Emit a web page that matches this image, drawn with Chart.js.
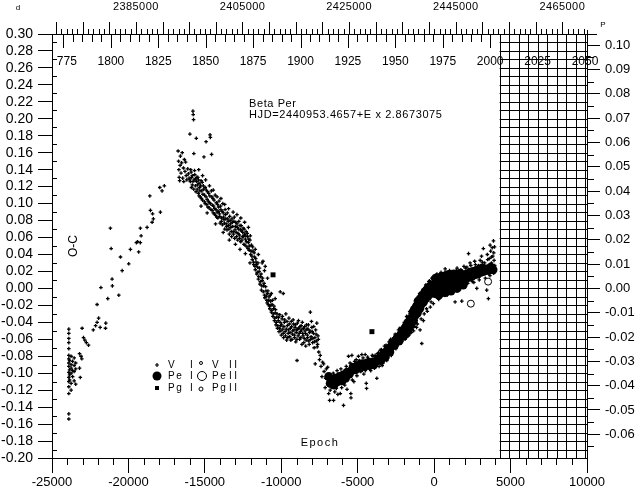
<!DOCTYPE html>
<html>
<head>
<meta charset="utf-8">
<script src="https://cdn.jsdelivr.net/npm/chart.js@4.4.1/dist/chart.umd.min.js"></script>
<style>
  body { margin: 0; background: #fff; }
  canvas { display: block; }
</style>
</head>
<body>
<canvas id="ocChart" width="640" height="494"></canvas>
<script>
// Beta Per ephemeris
const PERIOD = 2.8673075;
const HJD0 = 2440953.4657;

// axis ticks
const epochTicks = [-25000, -20000, -15000, -10000, -5000, 0, 5000, 10000];
const ocTicks = [-0.20, -0.18, -0.16, -0.14, -0.12, -0.10, -0.08, -0.06, -0.04, -0.02, 0.00,
  0.02, 0.04, 0.06, 0.08, 0.10, 0.12, 0.14, 0.16, 0.18, 0.20, 0.22, 0.24, 0.26, 0.28, 0.30];
const phaseTicks = [-0.06, -0.05, -0.04, -0.03, -0.02, -0.01, 0.00, 0.01, 0.02, 0.03, 0.04,
  0.05, 0.06, 0.07, 0.08, 0.09, 0.10];
const hjdLabels = [2385000, 2405000, 2425000, 2445000, 2465000];
const yearLabels = [1775, 1800, 1825, 1850, 1875, 1900, 1925, 1950, 1975, 2000, 2025, 2050];
// year scale as printed on top: [year, epoch] at both ends
const yearScale = [[1775, -24250], [2050, 9870]];

// [epoch, O-C in days]
const visualI = [
  [-23900,-0.048],[-23900,-0.053],[-23900,-0.059],[-23900,-0.064],[-23900,-0.071],[-23900,-0.079],
  [-23900,-0.083],[-23900,-0.088],[-23900,-0.092],[-23900,-0.099],[-23900,-0.105],[-23900,-0.110],
  [-23900,-0.116],[-23900,-0.124],[-23900,-0.148],[-23900,-0.154],
  [-23850,-0.085],[-23850,-0.096],[-23850,-0.102],[-23850,-0.108],
  [-23750,-0.080],[-23750,-0.090],[-23750,-0.094],[-23750,-0.100],[-23750,-0.112],[-23750,-0.120],
  [-23650,-0.086],[-23650,-0.097],[-23650,-0.104],[-23550,-0.082],[-23550,-0.091],[-23550,-0.098],
  [-23550,-0.109],[-23450,-0.088],[-23450,-0.095],[-23450,-0.113],
  [-23200,-0.094],[-23150,-0.105],[-23200,-0.077],[-23100,-0.080],[-23050,-0.083],
  [-23030,-0.047],[-22940,-0.058],[-22850,-0.061],[-22750,-0.064],[-22610,-0.067],
  [-22300,-0.049],[-22150,-0.044],[-22050,-0.040],[-21950,-0.035],[-21850,-0.046],[-22050,-0.019],
  [-21800,0.001],[-21500,-0.047],[-21480,-0.041],[-21350,-0.012],[-21070,0.011],[-21050,0.003],
  [-21130,0.047],[-21180,0.071],[-20630,-0.008],[-20520,0.037],[-20410,0.021],[-19980,0.029],
  [-19870,0.046],[-19480,0.054],[-19400,0.055],[-19330,0.043],[-19220,0.054],[-19170,0.062],
  [-19220,0.071],[-18780,0.072],[-18600,0.109],[-18560,0.092],[-18450,0.078],[-18370,0.082],
  [-18420,0.088],[-17910,0.090],[-17950,0.119],[-17800,0.115],[-17650,0.121],
  [-16750,0.162],[-16720,0.150],[-16700,0.140],[-16680,0.131],[-16650,0.127],[-16620,0.145],
  [-16600,0.156],[-16560,0.136],[-16520,0.148],[-16480,0.160],[-16450,0.130],[-16400,0.142],
  [-16380,0.126],[-16340,0.152],[-16300,0.138],[-16260,0.149],[-16220,0.133],[-16180,0.128],
  [-16120,0.141],[-16080,0.135],[-16030,0.130],[-15980,0.182],[-15950,0.126],[-15900,0.137],
  [-15860,0.131],[-15820,0.122],[-15780,0.209],[-15760,0.205],[-15740,0.199],[-15720,0.159],
  [-15700,0.128],[-15660,0.134],[-15620,0.121],[-15560,0.177],[-15540,0.126],[-15500,0.117],
  [-15460,0.131],[-15420,0.112],[-15380,0.124],[-15340,0.119],[-15300,0.108],[-15250,0.127],
  [-15200,0.115],[-15150,0.104],[-15100,0.121],[-15060,0.155],[-15020,0.110],[-14980,0.100],
  [-14920,0.173],[-14900,0.116],[-14850,0.105],[-14800,0.096],[-14750,0.112],[-14700,0.101],
  [-14660,0.181],[-14640,0.178],[-14600,0.093],[-14560,0.158],[-14540,0.108],[-14500,0.098],
  [-14450,0.089],[-14400,0.104],[-14350,0.094],[-14300,0.086],[-14250,0.101],[-14200,0.090],
  [-14150,0.083],[-14100,0.096],[-14050,0.088],[-14000,0.077],[-13950,0.093],[-13900,0.083],
  [-13850,0.075],[-13800,0.089],[-13750,0.081],[-13700,0.070],[-13650,0.087],[-13600,0.076],
  [-13550,0.069],[-13500,0.082],[-13450,0.074],[-13400,0.064],[-13350,0.080],[-13300,0.072],
  [-13250,0.061],[-13200,0.078],[-13150,0.067],[-13100,0.079],[-13050,0.059],[-13000,0.073],
  [-12950,0.066],[-12900,0.076],[-12850,0.057],[-12800,0.070],[-12750,0.063],[-12700,0.074],
  [-12650,0.055],[-12600,0.068],[-12550,0.061],[-12500,0.071],[-12450,0.052],[-12400,0.064],
  [-12350,0.058],[-12300,0.067],[-12250,0.049],[-12200,0.061],[-12150,0.054],[-12100,0.045],
  [-12050,0.057],[-12000,0.040],[-11950,0.051],[-11900,0.034],[-11850,0.044],[-11800,0.028],
  [-11750,0.037],[-11700,0.022],[-11650,0.031],[-11600,0.017],[-11550,0.025],[-11500,0.011],
  [-11450,0.020],[-11400,0.005],[-11350,0.014],[-11300,-0.002],[-11250,0.009],[-11200,0.032],
  [-11150,0.003],[-11100,-0.008],[-11050,0.026],[-11000,-0.003],[-10950,-0.014],[-10900,-0.006],
  [-10850,-0.019],[-10800,-0.010],[-10750,-0.024],[-10700,-0.015],[-10650,-0.028],[-10600,-0.019],
  [-10550,-0.033],[-10500,-0.024],[-10450,-0.038],[-10400,-0.029],[-10350,-0.043],[-10300,-0.034],
  [-10250,-0.047],[-10200,-0.038],[-10150,-0.051],[-10100,-0.031],[-10070,-0.004],[-10050,-0.044],
  [-10000,-0.055],[-9950,-0.036],[-9900,-0.048],[-9870,-0.006],[-9850,-0.058],[-9800,-0.040],
  [-9750,-0.051],[-9700,-0.030],[-9650,-0.061],[-9600,-0.044],[-9550,-0.053],[-9500,-0.035],
  [-9450,-0.057],[-9400,-0.047],[-9350,-0.039],[-9300,-0.060],[-9250,-0.050],[-9200,-0.042],
  [-9150,-0.055],[-9100,-0.046],[-9050,-0.063],[-9000,-0.049],[-8970,-0.085],[-8950,-0.041],
  [-8900,-0.056],[-8850,-0.047],[-8800,-0.060],[-8750,-0.051],[-8700,-0.044],[-8650,-0.066],
  [-8600,-0.053],[-8550,-0.047],[-8500,-0.059],[-8450,-0.050],[-8400,-0.068],[-8350,-0.043],
  [-8300,-0.055],[-8250,-0.048],[-8200,-0.062],[-8150,-0.052],[-8100,-0.028],[-8050,-0.057],
  [-8000,-0.046],[-7950,-0.064],[-7900,-0.053],[-7850,-0.070],[-7800,-0.058],[-7780,-0.089],
  [-7750,-0.049],[-7700,-0.062],[-7650,-0.069],[-7600,-0.056],[-7550,-0.075],[-7500,-0.084],
  [-7450,-0.079],[-7400,-0.092],[-7340,-0.104],[-7300,-0.087],[-7230,-0.089],[-7200,-0.098],
  [-7130,-0.117],[-7100,-0.106],[-7050,-0.095],[-6970,-0.093],[-6900,-0.124],[-6840,-0.132],
  [-6800,-0.120],[-6700,-0.116],[-6580,-0.132],[-6500,-0.122],[-6400,-0.118],[-6300,-0.125],
  [-6140,-0.124],[-6050,-0.117],[-5930,-0.138],[-5850,-0.114],[-5700,-0.119],[-5600,-0.080],
  [-5450,-0.124],[-5440,-0.129],[-5380,-0.079],[-5250,-0.110],[-5100,-0.084],[-4950,-0.080],
  [-4840,-0.096],[-4730,-0.078],[-4600,-0.101],[-4510,-0.078],[-4440,-0.112],[-4420,-0.118],
  [-4300,-0.083],[-4150,-0.097],[-4000,-0.080],[-3860,-0.079],[-3750,-0.106],[-3650,-0.076],
  [-3530,-0.073],[-3400,-0.091],[-3250,-0.068],[-3100,-0.085],[-2950,-0.063],[-2800,-0.079],
  [-2650,-0.058],[-2500,-0.071],[-2330,-0.049],[-2220,-0.048],[-2150,-0.064],[-2050,-0.045],
  [-1900,-0.060],[-1800,-0.033],[-1700,-0.056],[-1600,-0.027],[-1500,-0.052],[-1400,-0.022],
  [-1300,-0.045],[-1200,-0.014],[-1100,-0.042],[-1000,-0.010],[-920,-0.049],[-810,-0.065],
  [-700,-0.038],[-650,-0.030],[-550,0.004],[-450,-0.027],[-350,0.008],[-250,-0.022],
  [-150,0.012],[-50,-0.018],[50,0.015],[180,0.017],[300,-0.013],[450,0.019],[610,0.017],
  [720,0.023],[850,-0.008],[1000,0.021],[1150,-0.005],[1260,0.018],[1370,-0.016],[1500,0.024],
  [1650,0.003],[1810,-0.015],[1950,0.026],[2140,0.025],[2250,0.041],[2350,0.030],[2500,0.008],
  [2650,0.032],[2790,0.000],[2900,0.027],[3010,0.033],[3100,0.038],[3220,0.047],[3300,0.030],
  [3440,-0.002],[3480,0.040],[3550,-0.012],[3600,0.035],[3660,0.051],[3700,0.044],[3750,0.030],
  [3800,0.048],[3840,0.038],[3880,0.056],[3900,0.042],[3920,0.033],[3950,0.049],[3960,0.027],
  // second pass over the descending branch
  [-15975,0.128],[-15925,0.140],[-15875,0.119],[-15825,0.133],[-15775,0.126],[-15725,0.117],
  [-15675,0.139],[-15625,0.129],[-15575,0.114],[-15525,0.131],[-15475,0.122],[-15425,0.128],
  [-15375,0.109],[-15325,0.115],[-15275,0.121],[-15225,0.106],[-15175,0.125],[-15125,0.111],
  [-15075,0.117],[-15025,0.102],[-14975,0.119],[-14925,0.108],[-14875,0.099],[-14825,0.114],
  [-14775,0.103],[-14725,0.095],[-14675,0.109],[-14625,0.100],[-14575,0.115],[-14525,0.092],
  [-14475,0.106],[-14425,0.097],[-14375,0.088],[-14325,0.110],[-14275,0.093],[-14225,0.084],
  [-14175,0.099],[-14125,0.091],[-14075,0.103],[-14025,0.085],[-13975,0.097],[-13925,0.079],
  [-13875,0.091],[-13825,0.100],[-13775,0.084],[-13725,0.077],[-13675,0.093],[-13625,0.082],
  [-13575,0.073],[-13525,0.089],[-13475,0.079],[-13425,0.070],[-13375,0.085],[-13325,0.076],
  [-13275,0.067],[-13225,0.082],[-13175,0.073],[-13125,0.064],[-13075,0.084],[-13025,0.069],
  [-12975,0.078],[-12925,0.061],[-12875,0.072],[-12825,0.065],[-12775,0.079],[-12725,0.059],
  [-12675,0.069],[-12625,0.074],[-12575,0.057],[-12525,0.066],[-12475,0.061],[-12425,0.070],
  [-12375,0.051],[-12325,0.062],[-12275,0.055],[-12225,0.065],[-12175,0.047],[-12125,0.058],
  [-12075,0.050],[-12025,0.062],[-11975,0.044],[-11925,0.038],[-11875,0.049],[-11825,0.031],
  [-11775,0.042],[-11725,0.026],[-11675,0.035],[-11625,0.028],[-11575,0.019],[-11525,0.030],
  [-11475,0.014],[-11425,0.024],[-11375,0.008],[-11325,0.017],[-11275,0.003],[-11225,0.012],
  [-11175,-0.004],[-11125,0.006],[-11075,-0.011],[-11025,0.002],[-10975,-0.009],[-10925,-0.017],
  [-10875,-0.003],[-10825,-0.014],[-10775,-0.021],[-10725,-0.008],[-10675,-0.020],[-10625,-0.026],
  [-10575,-0.014],[-10525,-0.030],[-10475,-0.021],[-10425,-0.035],[-10375,-0.025],[-10325,-0.040],
  [-10275,-0.030],[-10225,-0.044],[-10175,-0.034],[-10125,-0.047],[-10075,-0.040],[-10025,-0.050],
  [-9975,-0.043],[-9925,-0.033],[-9875,-0.053],[-9825,-0.045],[-9775,-0.037],[-9725,-0.056],
  [-9675,-0.048],[-9625,-0.039],[-9575,-0.058],[-9525,-0.049],[-9475,-0.042],[-9425,-0.052],
  [-9375,-0.061],[-9325,-0.045],[-9275,-0.054],[-9225,-0.037],[-9175,-0.049],[-9125,-0.058],
  [-9075,-0.043],[-9025,-0.052],[-8975,-0.060],[-8925,-0.048],[-8875,-0.038],[-8825,-0.053],
  [-8775,-0.045],[-8725,-0.058],[-8675,-0.049],[-8625,-0.040],[-8575,-0.056],[-8525,-0.064],
  [-8475,-0.045],[-8425,-0.053],[-8375,-0.061],[-8325,-0.048],[-8275,-0.058],[-8225,-0.043],
  [-8175,-0.066],[-8125,-0.050],[-8075,-0.060],[-8025,-0.039],[-7975,-0.051],[-7925,-0.059],
  [-7875,-0.045],[-7825,-0.063],[-7725,-0.054],[-7675,-0.041],[-7625,-0.066],[-7575,-0.060],
  // scattered points off the descending branch
  [-15400,0.140],[-15150,0.133],[-14950,0.128],[-14700,0.121],[-14450,0.116],[-14200,0.108],
  [-13950,0.106],[-13700,0.099],[-13450,0.094],[-13150,0.090],[-12900,0.087],[-12650,0.083],
  [-12400,0.078],[-12150,0.072],[-15250,0.097],[-14850,0.089],[-14300,0.076],[-13800,0.066],
  [-13400,0.057],[-13000,0.052],[-12700,0.046],[-12350,0.041],[-12050,0.030],[-11700,0.046],
  [-11500,0.040],[-11250,0.030],[-11100,0.021],[-10900,0.012],[-10650,-0.006],[-10400,-0.012],
  // second pass over the rising branch
  [-6600,-0.100],[-6350,-0.097],[-6100,-0.095],[-5900,-0.112],[-5750,-0.092],[-5500,-0.088],
  [-5350,-0.108],[-5200,-0.086],[-5050,-0.103],[-4900,-0.085],[-4800,-0.098],[-4650,-0.082],
  [-4500,-0.097],[-4350,-0.081],[-4200,-0.095],[-4050,-0.079],[-3900,-0.094],[-3700,-0.077],
  [-3600,-0.092],[-3450,-0.072],[-3350,-0.088],[-3150,-0.067],[-3050,-0.082],[-2850,-0.060],
  [-2750,-0.075],[-2550,-0.054],[-2450,-0.068],[-2250,-0.047],[-2100,-0.062],[-1950,-0.040],
  [-1850,-0.058],[-1750,-0.034],[-1650,-0.055],[-1450,-0.028],[-1350,-0.050],[-1250,-0.018],
  [-1150,-0.046],[-950,-0.006],[-850,-0.036],[-600,0.001],[-500,-0.024],[-300,0.009],
  [-200,-0.016],[100,0.013],[250,-0.010],[400,0.016],[550,-0.008],[700,0.019],[900,-0.004],
  [1100,0.020],[1300,0.000],[1450,0.021],[1600,-0.001],[1750,0.022],[1900,0.002],[2050,0.024],
  [2200,0.006],[2400,0.027],[2600,0.007],[2700,0.028],[2950,0.010],[3150,0.031],[3350,0.012],
  [3500,0.034],[3650,0.015],[3750,0.037],[3900,0.018]
];

const photoelectricI = [
  [-6900,-0.104],[-6800,-0.112],[-6650,-0.108],[-6550,-0.114],[-6450,-0.106],[-6300,-0.110],
  [-6200,-0.104],[-6050,-0.109],[-5950,-0.102],[-5800,-0.106],[-5700,-0.099],[-5550,-0.101],
  [-5400,-0.097],[-5300,-0.093],[-5150,-0.096],[-5000,-0.091],[-4850,-0.094],[-4700,-0.089],
  [-4550,-0.092],[-4400,-0.088],[-4250,-0.091],[-4100,-0.087],[-3950,-0.090],[-3800,-0.086],
  [-3650,-0.083],[-3500,-0.085],[-3400,-0.080],[-3300,-0.077],[-3200,-0.081],[-3100,-0.074],
  [-3000,-0.071],[-2900,-0.075],[-2800,-0.068],[-2700,-0.064],[-2600,-0.067],[-2500,-0.061],
  [-2400,-0.058],[-2300,-0.062],[-2200,-0.055],[-2100,-0.052],[-2000,-0.056],[-1950,-0.048],
  [-1850,-0.045],[-1800,-0.052],[-1700,-0.040],[-1650,-0.047],[-1550,-0.036],[-1500,-0.043],
  [-1400,-0.030],[-1350,-0.038],[-1300,-0.025],[-1250,-0.032],[-1150,-0.021],[-1100,-0.029],
  [-1050,-0.015],[-950,-0.024],[-900,-0.012],[-850,-0.019],[-750,-0.008],[-700,-0.016],
  [-600,-0.004],[-550,-0.012],[-450,-0.001],[-400,-0.009],[-300,0.002],[-250,-0.006],
  [-150,0.004],[-100,-0.004],[0,0.003],[50,-0.006],[150,0.006],[250,-0.003],[350,0.008],
  [450,0.000],[550,0.010],[650,0.002],[750,0.011],[850,0.004],[950,0.012],[1050,0.003],
  [1150,0.013],[1250,0.006],[1350,0.014],[1450,0.007],[1550,0.012],[1650,0.008],[1750,0.015],
  [1850,0.010],[1950,0.016],[2050,0.011],[2150,0.017],[2250,0.013],[2350,0.019],[2450,0.014],
  [2550,0.020],[2650,0.016],[2750,0.021],[2850,0.017],[2950,0.022],[3050,0.019],[3150,0.024],
  [3250,0.020],[3400,0.023],[3550,0.021],[3700,0.025],[3850,0.022],
  [100,0.012],[300,-0.008],[500,0.014],[700,-0.005],[900,0.016],[1100,-0.003],[1300,0.017],
  [1500,0.000],[1700,0.018],[1900,0.004]
];

const photographicI = [[-10540, 0.016], [-4070, -0.051]];
const photoelectricII = [[2400, -0.018], [3530, 0.008]];

const toPoints = arr => arr.map(p => ({ x: p[0], y: p[1] }));
const FONT = '"Liberation Sans", Arial, sans-serif';

function yearToEpoch(yr) {
  const [a, b] = yearScale;
  return a[1] + (yr - a[0]) * (b[1] - a[1]) / (b[0] - a[0]);
}
function hjdToEpoch(h) {
  return (h - HJD0) / PERIOD;
}

const framePlugin = {
  id: 'frame',
  beforeDatasetsDraw(chart) {
    // hatched future region
    const { ctx, chartArea } = chart;
    const xs = chart.scales.x, ys = chart.scales.y;
    const left = xs.getPixelForValue(yearToEpoch(2005));
    const top = ys.getPixelForValue(0.29);
    ctx.save();
    ctx.strokeStyle = '#000';
    ctx.lineWidth = 1;
    ctx.beginPath();
    for (let yr = 2005; yr <= 2050; yr += 5) {
      const x = Math.round(xs.getPixelForValue(yearToEpoch(yr))) + 0.5;
      ctx.moveTo(x, top); ctx.lineTo(x, chartArea.bottom);
    }
    for (let i = -20; i <= 29; i++) {
      const y = Math.round(ys.getPixelForValue(i / 100)) + 0.5;
      ctx.moveTo(left, y); ctx.lineTo(chartArea.right, y);
    }
    ctx.stroke();
    ctx.restore();
  },
  afterDraw(chart) {
    const { ctx, chartArea } = chart;
    const xs = chart.scales.x, ys = chart.scales.y, y2 = chart.scales.y2;
    const top = chartArea.top;
    ctx.save();
    ctx.strokeStyle = '#000';
    ctx.fillStyle = '#000';
    ctx.lineWidth = 1;

    // top axis line + right line extension
    ctx.beginPath();
    ctx.moveTo(chartArea.left, top + 0.5); ctx.lineTo(chartArea.right + 10, top + 0.5);
    ctx.moveTo(chartArea.right + 0.5, top - 4); ctx.lineTo(chartArea.right + 0.5, top);
    // HJD ticks (up)
    for (let h = 2370000; h <= 2470000; h += 1000) {
      const x = xs.getPixelForValue(hjdToEpoch(h));
      if (x < chartArea.left || x > chartArea.right + 1) continue;
      const len = h % 5000 === 0 ? 12 : 5;
      const px = Math.round(x) + 0.5;
      ctx.moveTo(px, top); ctx.lineTo(px, top - len);
    }
    // year ticks (down)
    for (let yr = 1775; yr <= 2050; yr += 5) {
      const px = Math.round(xs.getPixelForValue(yearToEpoch(yr))) + 0.5;
      const len = yr % 25 === 0 ? 14 : 8;
      ctx.moveTo(px, top); ctx.lineTo(px, top + len);
    }
    // minor ticks left (inward)
    for (let i = -19; i <= 29; i += 2) {
      const py = Math.round(ys.getPixelForValue(i / 100)) + 0.5;
      ctx.moveTo(chartArea.left, py); ctx.lineTo(chartArea.left + 5, py);
    }
    // minor ticks bottom
    for (let e = -24000; e < 10000; e += 1000) {
      if (e % 5000 === 0) continue;
      const px = Math.round(xs.getPixelForValue(e)) + 0.5;
      ctx.moveTo(px, chartArea.bottom); ctx.lineTo(px, chartArea.bottom + 7);
    }
    // minor ticks right
    for (let i = -65; i <= 105; i += 10) {
      const py = Math.round(y2.getPixelForValue(i / 1000)) + 0.5;
      if (py < top || py > chartArea.bottom) continue;
      ctx.moveTo(chartArea.right, py); ctx.lineTo(chartArea.right + 7, py);
    }
    ctx.stroke();

    // HJD labels
    ctx.font = '11px ' + FONT;
    ctx.letterSpacing = '0.4px';
    ctx.textAlign = 'center';
    ctx.textBaseline = 'middle';
    hjdLabels.forEach(h => ctx.fillText(String(h), xs.getPixelForValue(hjdToEpoch(h)), 7));

    // year labels (clipped at the left axis)
    ctx.save();
    ctx.beginPath();
    ctx.rect(chartArea.left + 4, top, 640, 40);
    ctx.clip();
    ctx.font = '12px ' + FONT;
    ctx.letterSpacing = '0px';
    yearLabels.forEach(yr => ctx.fillText(String(yr), xs.getPixelForValue(yearToEpoch(yr)), 62));
    ctx.restore();

    // unit marks
    ctx.font = '8px ' + FONT;
    ctx.letterSpacing = '0px';
    ctx.fillText('d', 18, 8);
    ctx.fillText('P', 603, 25);

    // title
    ctx.textAlign = 'left';
    ctx.font = '11px ' + FONT;
    ctx.letterSpacing = '0.6px';
    ctx.fillText('Beta Per', 249, 104);
    ctx.fillText('HJD=2440953.4657+E x 2.8673075', 249, 115);

    // axis titles
    ctx.textAlign = 'center';
    ctx.letterSpacing = '1.5px';
    ctx.fillText('Epoch', 320, 443);
    ctx.save();
    ctx.translate(74, 246);
    ctx.rotate(-Math.PI / 2);
    ctx.font = '12px ' + FONT;
    ctx.letterSpacing = '0px';
    ctx.fillText('O-C', 0, 0);
    ctx.restore();

    // legend
    ctx.font = '10px ' + FONT;
    ctx.textAlign = 'left';
    const rows = [365, 376, 388];
    const names = ['V', 'Pe', 'Pg'];
    rows.forEach((ry, i) => {
      ctx.letterSpacing = '1.5px';
      ctx.fillText(names[i], 168, ry);
      ctx.fillText('I', 190, ry);
      ctx.fillText(names[i], 212, ry);
      ctx.letterSpacing = '2.5px';
      ctx.fillText('II', 229, ry);
    });
    ctx.lineWidth = 1.2;
    ctx.beginPath();
    ctx.moveTo(155, 365); ctx.lineTo(159, 365);
    ctx.moveTo(157, 363); ctx.lineTo(157, 367);
    ctx.stroke();
    ctx.beginPath();
    ctx.arc(157, 376, 4.5, 0, Math.PI * 2);
    ctx.fill();
    ctx.fillRect(155, 386, 4, 4);
    ctx.lineWidth = 1;
    ctx.beginPath();
    ctx.arc(201, 363, 1.5, 0, Math.PI * 2);
    ctx.stroke();
    ctx.beginPath();
    ctx.arc(202, 376, 4.5, 0, Math.PI * 2);
    ctx.stroke();
    ctx.beginPath();
    ctx.arc(201, 389, 2, 0, Math.PI * 2);
    ctx.stroke();
    ctx.restore();
  }
};

new Chart(document.getElementById('ocChart').getContext('2d'), {
  type: 'scatter',
  data: {
    datasets: [
      {
        label: 'Pe II',
        data: toPoints(photoelectricII),
        pointStyle: 'circle',
        pointRadius: 3.5,
        backgroundColor: '#fff',
        borderColor: '#000',
        borderWidth: 1
      },
      {
        label: 'Pg I',
        data: toPoints(photographicI),
        pointStyle: 'rect',
        pointRadius: 3.5,
        backgroundColor: '#000',
        borderWidth: 0
      },
      {
        label: 'V I',
        data: toPoints(visualI),
        pointStyle: 'cross',
        pointRadius: 1.8,
        borderColor: '#000',
        borderWidth: 1.3
      },
      {
        label: 'Pe I',
        data: toPoints(photoelectricI),
        pointStyle: 'circle',
        pointRadius: 4.5,
        backgroundColor: '#000',
        borderWidth: 0
      }
    ]
  },
  options: {
    responsive: false,
    animation: false,
    devicePixelRatio: 1,
    layout: { padding: { top: 34 } },
    plugins: { legend: { display: false }, tooltip: { enabled: false } },
    scales: {
      x: {
        type: 'linear',
        position: 'bottom',
        min: -25000,
        max: 10000,
        afterFit: s => { s.height = 36; },
        afterBuildTicks: s => { s.ticks = epochTicks.map(v => ({ value: v })); },
        grid: { drawOnChartArea: false, tickLength: 15, color: '#000' },
        border: { color: '#000' },
        ticks: {
          color: '#000',
          font: { family: FONT, size: 13 },
          padding: 2,
          maxRotation: 0,
          autoSkip: false,
          callback: v => String(v)
        }
      },
      y: {
        type: 'linear',
        position: 'left',
        min: -0.20,
        max: 0.30,
        afterFit: s => { s.width = 52; },
        afterBuildTicks: s => { s.ticks = ocTicks.map(v => ({ value: v })); },
        grid: { drawOnChartArea: false, tickLength: 14, color: '#000' },
        border: { color: '#000' },
        ticks: {
          color: '#000',
          font: { family: FONT, size: 14 },
          padding: 5,
          autoSkip: false,
          callback: v => v.toFixed(2)
        }
      },
      y2: {
        type: 'linear',
        position: 'right',
        min: -0.20 / PERIOD,
        max: 0.30 / PERIOD,
        afterFit: s => { s.width = 53; },
        afterBuildTicks: s => { s.ticks = phaseTicks.map(v => ({ value: v })); },
        grid: { drawOnChartArea: false, tickLength: 13, color: '#000' },
        border: { color: '#000' },
        ticks: {
          color: '#000',
          font: { family: FONT, size: 13 },
          padding: 5,
          autoSkip: false,
          callback: v => v.toFixed(2)
        }
      }
    }
  },
  plugins: [framePlugin]
});
</script>
</body>
</html>
